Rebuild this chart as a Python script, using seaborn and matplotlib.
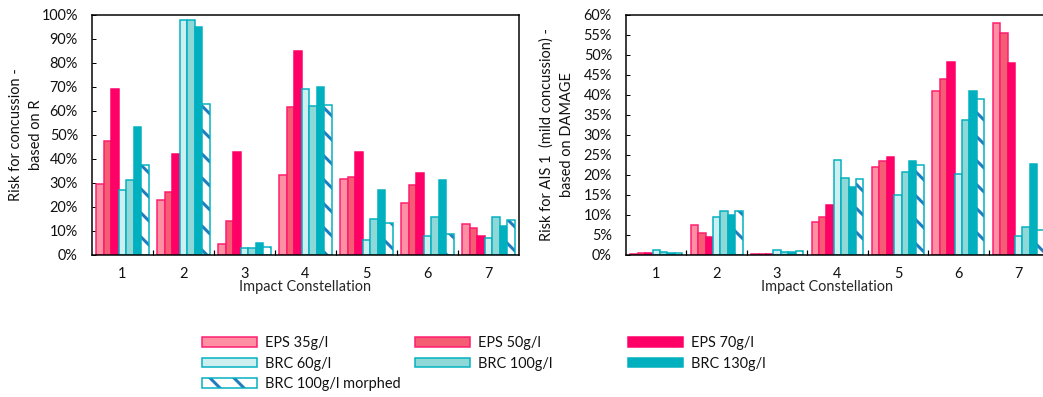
import matplotlib
matplotlib.use('Agg')
import numpy as np
import pandas as pd
import matplotlib.pyplot as plt
import seaborn as sns
from matplotlib.ticker import PercentFormatter, FixedLocator
from matplotlib.patches import Patch, Rectangle
from matplotlib.legend_handler import HandlerTuple

# ---------------- data ----------------
groups = ['1', '2', '3', '4', '5', '6', '7']
series = ['EPS 35g/l', 'EPS 50g/l', 'EPS 70g/l', 'BRC 60g/l', 'BRC 100g/l',
          'BRC 130g/l', 'BRC 100g/l morphed']

# left chart: Risk for concussion - based on R (%)
left_eps35 = [29.6, 23.0, 4.4, 33.4, 31.8, 21.5, 13.0]
left_eps50 = [47.5, 26.3, 14.3, 61.8, 32.3, 29.3, 11.2]
left_eps70 = [69.1, 42.2, 43.1, 85.0, 43.1, 34.1, 8.1]
left_brc60 = [27.0, 97.9, 3.0, 69.0, 6.1, 8.0, 6.9]
left_brc100 = [31.2, 97.9, 3.0, 62.0, 15.0, 16.0, 15.9]
left_brc130 = [53.2, 95.2, 5.0, 70.0, 27.0, 31.2, 12.2]
left_morphed = [37.7, 63.0, 3.2, 62.3, 13.3, 8.7, 14.7]

# right chart: Risk for AIS 1 (mild concussion) - based on DAMAGE (%)
right_eps35 = [0.25, 7.4, 0.3, 8.2, 22.0, 40.9, 58.0]
right_eps50 = [0.4, 5.4, 0.3, 9.6, 23.5, 44.0, 55.4]
right_eps70 = [0.6, 4.6, 0.3, 12.6, 24.4, 48.3, 48.1]
right_brc60 = [1.25, 9.6, 1.25, 23.8, 15.0, 20.3, 4.7]
right_brc100 = [0.7, 11.0, 0.8, 19.2, 20.8, 33.7, 7.1]
right_brc130 = [0.6, 10.0, 0.75, 16.9, 23.5, 40.9, 22.7]
right_morphed = [0.6, 11.1, 1.0, 19.1, 22.4, 39.0, 6.2]

left_ticks = [0, 10, 20, 30, 40, 50, 60, 70, 80, 90, 100]
right_ticks = [0, 5, 10, 15, 20, 25, 30, 35, 40, 45, 50, 55, 60]

# ---------------- style ----------------
fills = ['#FF8FA3', '#F45D74', '#FF0066', '#CDEFEF', '#8ED8D8', '#00B0BF', '#FFFFFF']
edges = ['#FF1A6E', '#FF1A6E', '#FF0066', '#00B0C0', '#00B0C0', '#00B0BF', '#00B0C0']
HATCH_COLOR = '#1F7DBF'
FS = 14.5

sns.set_style('white')
plt.rcParams['font.family'] = ['Lato', 'DejaVu Sans']
plt.rcParams['hatch.linewidth'] = 3.0
plt.rcParams['text.color'] = '#111111'
plt.rcParams['xtick.color'] = '#111111'
plt.rcParams['ytick.color'] = '#111111'


def long_df(cols):
    rows = []
    for s, vals in zip(series, cols):
        for g, v in zip(groups, vals):
            rows.append({'Impact Constellation': g, 'Series': s, 'Risk': v})
    return pd.DataFrame(rows)


df_left = long_df([left_eps35, left_eps50, left_eps70, left_brc60,
                   left_brc100, left_brc130, left_morphed])
df_right = long_df([right_eps35, right_eps50, right_eps70, right_brc60,
                    right_brc100, right_brc130, right_morphed])

W, H = 1043, 397
fig = plt.figure(figsize=(W / 72, H / 72), dpi=72)
ax_l = fig.add_axes([92 / W, 1 - 255 / H, 427 / W, 240 / H])
ax_r = fig.add_axes([626 / W, 1 - 255 / H, 423 / W, 240 / H])


def draw(ax, df, ticks, xlabel_x):
    sns.barplot(data=df, x='Impact Constellation', y='Risk', hue='Series',
                order=groups, hue_order=series,
                palette=dict(zip(series, fills)), saturation=1, width=0.86,
                errorbar=None, legend=False, ax=ax, linewidth=1.5)
    for i, cont in enumerate(ax.containers):
        for bar in cont:
            if i == 6:
                bar.set_facecolor('white')
                bar.set_edgecolor(HATCH_COLOR)
                bar.set_hatch('\\')
                bar.set_linewidth(0)
                ax.add_patch(Rectangle(bar.get_xy(), bar.get_width(), bar.get_height(),
                                       fill=False, edgecolor=edges[6], linewidth=1.5))
            else:
                bar.set_edgecolor(edges[i])
    ax.set_xlim(-0.5, len(groups) - 0.5)
    ax.set_ylim(ticks[0], ticks[-1])
    ax.set_yticks(ticks)
    ax.yaxis.set_major_formatter(PercentFormatter(100, decimals=0))
    ax.tick_params(axis='y', direction='in', length=4, width=1, left=True,
                   labelsize=FS, pad=14, color='black')
    ax.tick_params(axis='x', which='major', length=0, labelsize=FS, pad=12)
    ax.xaxis.set_minor_locator(FixedLocator([k + 0.5 for k in range(len(groups) - 1)]))
    ax.tick_params(axis='x', which='minor', direction='in', length=5, width=1.2,
                   bottom=True, color='black')
    for sp in ax.spines.values():
        sp.set_color('black')
        sp.set_linewidth(1.5)
    ax.set_ylabel('')
    ax.set_xlabel('Impact Constellation', fontsize=FS)
    ax.xaxis.set_label_coords(xlabel_x, -0.105)


draw(ax_l, df_left, left_ticks, 0.5)
draw(ax_r, df_right, right_ticks, 0.475)

# y labels (two centred lines each)
yc = 1 - 135 / H
fig.text(16 / W, yc, 'Risk for concussion -', rotation=90, ha='center', va='center', fontsize=FS)
fig.text(36 / W, yc, 'based on R', rotation=90, ha='center', va='center', fontsize=FS)
fig.text(547 / W, yc, 'Risk for AIS 1  (mild concussion) -', rotation=90, ha='center', va='center', fontsize=FS)
fig.text(567 / W, yc, 'based on DAMAGE', rotation=90, ha='center', va='center', fontsize=FS)

# legend handles
handles = []
for i, s in enumerate(series):
    if i == 6:
        h = (Patch(facecolor='white', edgecolor=HATCH_COLOR, hatch='\\', linewidth=0),
             Patch(fill=False, edgecolor=edges[6], linewidth=1.5))
    else:
        h = Patch(facecolor=fills[i], edgecolor=edges[i], linewidth=1.5)
    handles.append(h)

columns = [[0, 3, 6], [1, 4], [2, 5]]
col_x = [202, 415, 628]
for idxs, x in zip(columns, col_x):
    fig.legend([handles[k] for k in idxs], [series[k] for k in idxs],
               loc='upper left', bbox_to_anchor=(x / W, 1 - 336 / H),
               frameon=False, fontsize=FS, handlelength=3.8, handleheight=0.62,
               handletextpad=0.55, labelspacing=0.45, borderpad=0, borderaxespad=0,
               handler_map={tuple: HandlerTuple(ndivide=1)})

fig.savefig('out.png', dpi=72)
